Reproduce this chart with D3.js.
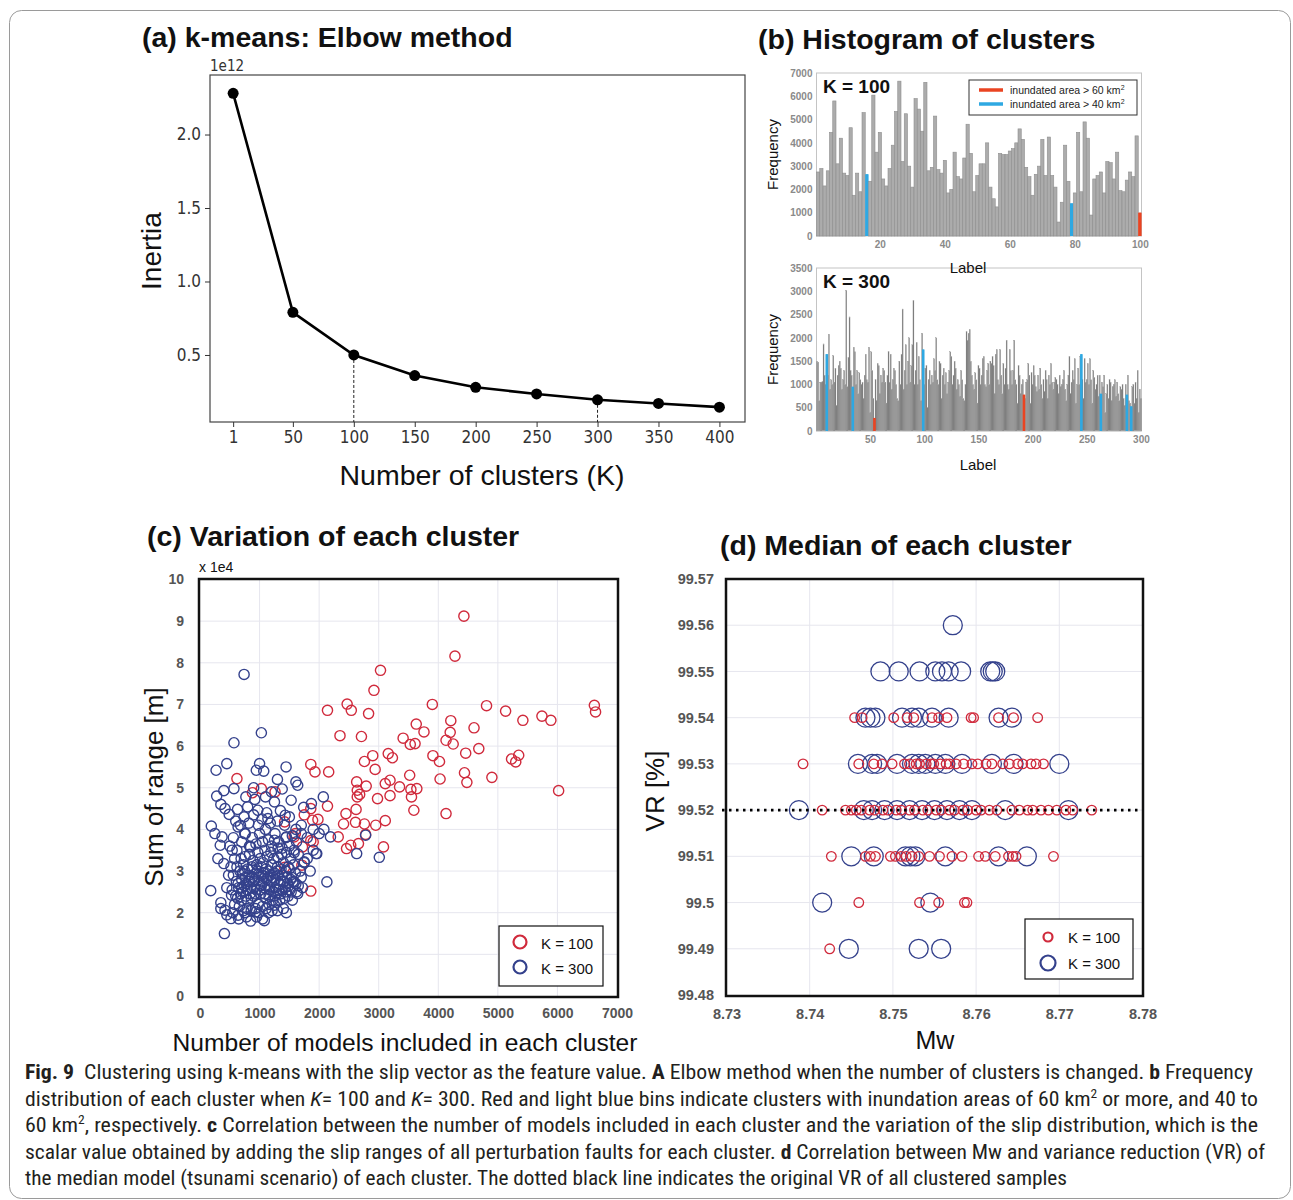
<!DOCTYPE html>
<html>
<head>
<meta charset="utf-8">
<script src="https://cdn.jsdelivr.net/npm/d3@7"></script>
<style>
body { margin: 0; background: #fff; }
svg { display: block; font-family: "Liberation Sans", Arial, sans-serif; }
</style>
</head>
<body>
<div id="chart"></div>
<script>
// (a) elbow method
const elbowK = [1, 50, 100, 150, 200, 250, 300, 350, 400];
const elbowInertia = [2.28, 0.79, 0.50, 0.36, 0.28, 0.235, 0.195, 0.17, 0.145];
const elbowMarked = [100, 300];
const elbowYTicks = [0.5, 1.0, 1.5, 2.0];

// (b) histograms, one value per cluster label
const hist100 = [
  2750, 2900, 2150, 2800, 4450, 5800, 3100, 4200, 2700, 2600,
  4650, 1750, 2700, 1900, 5300, 2650, 2350, 6050, 3600, 4450,
  2450, 2150, 2900, 3900, 5350, 6650, 3200, 5250, 3000, 2100,
  5900, 5450, 4500, 6600, 2800, 2950, 5150, 2850, 2700, 3250,
  1850, 2000, 3600, 2550, 2450, 3350, 4800, 3550, 1900, 2600,
  3100, 3100, 4000, 2100, 1600, 1250, 3550, 3500, 3500, 3650,
  3750, 4000, 4600, 4150, 2950, 2550, 1750, 2650, 3000, 4150,
  2600, 4250, 2600, 2100, 600, 1450, 3900, 2350, 1400, 1850,
  4450, 1900, 4900, 4200, 900, 2450, 2600, 2750, 1850, 3200,
  3150, 2450, 3600, 1950, 1900, 2400, 2750, 2550, 4300, 1000
];
const hist100Blue = [16, 79];
const hist100Red = [100];

const hist300 = [
  1500, 1480, 650, 1050, 1050, 1060, 1870, 1200, 1000, 1650,
  1200, 2080, 900, 1100, 1000, 1620, 1050, 1350, 550, 1200,
  1400, 1500, 1350, 900, 1100, 1300, 1000, 3020, 950, 1580,
  2450, 1300, 1200, 950, 1800, 1700, 1000, 1300, 800, 1250,
  1100, 1000, 1050, 700, 1200, 1650, 1100, 1050, 1800, 400,
  1700, 1300, 700, 280, 1100, 650, 1450, 1400, 800, 1200,
  1050, 1350, 1300, 1050, 600, 1200, 1700, 1050, 1650, 900,
  1100, 1350, 1300, 1000, 700, 650, 1500, 1000, 1650, 2620,
  900, 1300, 1850, 1000, 1500, 2000, 1050, 1400, 1850, 2800,
  1000, 1300, 1900, 1000, 1600, 1100, 650, 2100, 1750, 1000,
  1350, 1400, 500, 1100, 1300, 1000, 1200, 1050, 1550, 1300,
  2000, 1100, 1000, 1500, 1450, 700, 1200, 1350, 1000, 1250,
  800, 1050, 1300, 1700, 1600, 1000, 1200, 1500, 1350, 900,
  1100, 1000, 750, 1300, 1100, 700, 650, 1000, 2130, 1950,
  2100, 2180, 1500, 1200, 1000, 900, 1250, 1100, 600, 1400,
  1350, 1000, 1200, 1550, 1600, 1000, 950, 1300, 1450, 1000,
  1500, 1450, 1600, 1400, 800, 1650, 1750, 1100, 1000, 1750,
  1200, 800, 1450, 1000, 1350, 1950, 1000, 900, 1750, 1300,
  1000, 1300, 1950, 1100, 1000, 600, 1400, 1200, 800, 1000,
  1100, 780, 700, 1050, 1100, 1450, 1200, 600, 1250, 1000,
  1400, 1200, 950, 850, 1200, 900, 1350, 1000, 700, 1100,
  850, 1300, 1100, 700, 1200, 1000, 1450, 1050, 900, 1050,
  1150, 1100, 1000, 800, 1200, 950, 1000, 1100, 1300, 900,
  650, 1000, 1200, 1600, 800, 1050, 1300, 1100, 1550, 600,
  1000, 1350, 1000, 1600, 1650, 1100, 700, 1550, 1050, 1100,
  1450, 1000, 1550, 1100, 600, 1300, 1150, 900, 1000, 1200,
  750, 1200, 800, 1050, 950, 1200, 400, 800, 1000, 700,
  1100, 1050, 650, 950, 1000, 1100, 750, 1050, 800, 650,
  950, 900, 1000, 700, 550, 1000, 780, 1200, 650, 600,
  530, 950, 1000, 600, 1050, 700, 1300, 400, 900, 700
];
const hist300Blue = [10, 34, 99, 245, 263, 287, 291];
const hist300Red = [54, 192];

// (c) number of models vs sum of range (x1e4)
const spreadK100 = [
  [4430, 9.12], [4280, 8.16], [3030, 7.82], [2920, 7.34], [2140, 6.86], [2470, 7.01], [2540, 6.86],
  [2830, 6.78], [3900, 7.0], [4810, 6.97], [5130, 6.84], [5420, 6.62], [5740, 6.72], [5890, 6.62],
  [6620, 6.98], [6640, 6.82], [2350, 6.25], [2710, 6.23], [3410, 6.19], [3530, 6.04], [3610, 6.06],
  [3630, 6.53], [3760, 6.34], [4210, 6.61], [4200, 6.33], [4130, 6.14], [4250, 6.05], [4600, 6.44],
  [4680, 5.94], [4460, 5.83], [3910, 5.77], [4020, 5.63], [5230, 5.69], [5350, 5.78], [5300, 5.62],
  [3160, 5.82], [3230, 5.72], [2900, 5.77], [2760, 5.63], [2940, 5.44], [1860, 5.56], [1930, 5.38],
  [2160, 5.38], [620, 5.22], [880, 4.88], [1030, 4.98], [1260, 4.90], [2630, 5.14], [2790, 5.04],
  [2640, 4.94], [2680, 4.84], [2640, 4.78], [2980, 4.74], [3110, 5.10], [3190, 5.18], [3350, 5.02],
  [3190, 4.81], [3520, 5.30], [3540, 4.96], [3550, 4.78], [3640, 4.98], [3590, 4.46], [4030, 5.21],
  [4440, 5.36], [4480, 5.13], [4900, 5.25], [6020, 4.93], [4130, 4.38], [1860, 4.50], [1890, 4.22],
  [1980, 4.24], [2140, 4.56], [2450, 4.38], [2620, 4.48], [2410, 4.13], [2610, 4.17], [2760, 4.13],
  [2950, 4.10], [3110, 4.21], [2320, 3.82], [2460, 3.54], [2530, 3.62], [2660, 3.66], [2780, 3.88],
  [3080, 3.58], [1860, 3.73], [1900, 3.70], [1600, 3.90], [1720, 3.58], [1420, 4.18], [1420, 3.09],
  [1710, 3.14], [1860, 2.52], [1580, 3.82], [1750, 4.35]
];
const spreadK300 = [
  [740, 7.72], [1030, 6.32], [570, 6.08], [270, 5.42], [450, 5.58], [945, 5.42], [1000, 5.58],
  [1070, 5.40], [1445, 5.50], [1610, 5.14], [1640, 5.06], [1380, 4.97], [1530, 4.70], [1740, 4.53],
  [1870, 4.62], [2070, 4.78], [2080, 4.00], [2190, 3.82], [1960, 3.42], [2630, 3.42], [2780, 3.86],
  [3010, 3.33], [2130, 2.74], [180, 2.53], [410, 1.50], [1080, 1.81], [190, 4.08], [280, 4.80],
  [400, 4.93], [570, 4.98], [490, 4.36], [630, 4.48], [770, 4.78], [920, 4.72], [1100, 4.78],
  [1250, 4.66], [800, 4.54], [970, 4.46], [1140, 4.26], [1430, 4.34], [370, 3.82], [340, 3.62],
  [400, 3.18], [540, 3.50], [750, 3.90], [850, 3.58], [640, 4.06], [1250, 3.74], [1580, 3.44],
  [1610, 4.0], [1450, 3.82], [1310, 3.34], [1750, 3.22], [1950, 3.42], [350, 2.24], [420, 2.06],
  [520, 1.86], [640, 1.94], [780, 1.90], [940, 2.02], [1250, 2.18], [1640, 2.46], [1580, 2.74],
  [530, 2.42], [700, 2.30],
  [600, 2.4], [650, 2.6], [700, 2.8], [720, 2.5], [750, 3.0], [780, 2.7], [800, 2.3], [820, 2.9],
  [850, 2.6], [870, 3.1], [900, 2.4], [920, 2.8], [950, 2.55], [960, 3.0], [980, 2.2], [1000, 2.7],
  [1020, 2.45], [1040, 2.9], [1060, 3.2], [1080, 2.6], [1100, 2.35], [1120, 2.8], [1150, 3.0],
  [1170, 2.55], [1200, 2.75], [1220, 2.3], [1250, 2.95], [1270, 2.6], [1300, 3.1], [1330, 2.7],
  [1350, 2.45], [1380, 2.9], [1400, 3.2], [1430, 2.6], [1460, 2.85], [1500, 3.05], [1530, 2.5],
  [1560, 2.75], [1600, 2.95], [1650, 2.65],
  [560, 2.9], [580, 2.2], [620, 3.1], [660, 2.15], [690, 3.3], [730, 2.05], [760, 3.35], [790, 2.1],
  [830, 3.4], [860, 2.05], [890, 3.25], [930, 2.1], [970, 3.45], [990, 2.0], [1010, 3.3], [1050, 2.15],
  [1090, 3.5], [1110, 2.1], [1130, 3.35], [1160, 2.2], [1190, 3.45], [1210, 2.05], [1240, 3.3],
  [1280, 2.25], [1310, 3.55], [1340, 2.3], [1370, 3.4], [1420, 2.35], [1450, 3.45], [1480, 2.4],
  [1520, 3.3], [1550, 2.3], [1580, 3.5], [1620, 2.5], [1680, 3.0], [1720, 2.6], [1750, 3.2], [1650, 3.4],
  [640, 2.7], [680, 2.45], [710, 2.95], [740, 2.65], [770, 2.4], [810, 2.75], [840, 2.45], [880, 2.85],
  [910, 2.6], [940, 2.95], [1030, 2.65], [1070, 2.95], [1140, 2.65], [1180, 2.9], [1230, 2.5],
  [1260, 2.8], [1290, 2.45], [1320, 2.9], [1360, 2.75], [1390, 2.55], [1440, 3.0], [1470, 2.7],
  [1510, 2.55], [1540, 2.85],
  [500, 3.6], [560, 3.8], [620, 3.5], [700, 3.7], [760, 3.9], [830, 3.6], [880, 3.8], [940, 3.65],
  [1000, 3.9], [1050, 3.7], [1100, 4.0], [1150, 3.75], [1200, 3.6], [1260, 3.9], [1320, 3.7],
  [1380, 3.55], [1440, 3.8], [1500, 3.6], [1550, 3.85], [1620, 3.7], [1700, 3.9], [1800, 3.8],
  [600, 4.2], [680, 4.1], [740, 4.3], [820, 4.15], [900, 4.35], [980, 4.1], [1040, 4.25], [1120, 4.4],
  [1180, 4.15], [1300, 4.2], [1350, 4.45], [1420, 4.1], [1500, 4.3], [1700, 4.1], [1900, 4.0], [2000, 3.9],
  [350, 2.1], [450, 1.95], [550, 2.0], [650, 1.85], [750, 2.0], [850, 1.8], [950, 1.9], [1050, 1.85],
  [1150, 2.0], [1300, 2.05], [1400, 2.1], [1450, 2.0],
  [450, 2.6], [480, 2.9], [520, 3.1], [540, 2.55], [580, 3.3], [610, 2.75], [630, 2.35], [670, 3.0],
  [700, 2.6], [730, 3.15], [760, 2.85], [790, 2.55], [800, 3.05], [830, 2.75], [860, 2.35], [880, 3.05],
  [900, 2.75], [930, 2.45], [950, 3.15], [990, 2.85], [1010, 2.55], [1030, 3.1], [1060, 2.75], [1090, 2.45],
  [1110, 3.05], [1140, 2.85], [1160, 2.4], [1200, 3.15], [1230, 2.85], [1250, 2.4], [1290, 3.0], [1320, 2.55],
  [1360, 3.05], [1400, 2.75], [1440, 2.5], [1480, 3.1], [1520, 2.8], [1570, 3.15], [1610, 2.7], [1700, 2.85],
  [1800, 3.3], [1850, 3.0], [1900, 3.5], [300, 3.3], [250, 3.9], [420, 4.5], [350, 4.6], [900, 5.0],
  [1200, 4.9], [1300, 5.2]
];

// (d) VR level -> Mw of each median model
const medianK100 = [
  [99.54, [8.7454, 8.7463, 8.7501, 8.7517, 8.7525, 8.7547, 8.7555, 8.7565, 8.7594, 8.7597, 8.7627, 8.7645, 8.7674]],
  [99.53, [8.7392, 8.7459, 8.7477, 8.7487, 8.7499, 8.7514, 8.7520, 8.7528, 8.7532, 8.7540, 8.7546, 8.7549,
           8.7557, 8.7564, 8.7568, 8.7576, 8.7585, 8.7595, 8.7602, 8.7612, 8.7619, 8.7632, 8.7640, 8.7650,
           8.7656, 8.7666, 8.7672, 8.7681]],
  [99.52, [8.7415, 8.7443, 8.7450, 8.7456, 8.7462, 8.7472, 8.7478, 8.7488, 8.7494, 8.7504, 8.7510, 8.7520,
           8.7526, 8.7536, 8.7542, 8.7552, 8.7558, 8.7568, 8.7574, 8.7584, 8.7590, 8.7600, 8.7606, 8.7616,
           8.7625, 8.7643, 8.7652, 8.7662, 8.7668, 8.7678, 8.7687, 8.7697, 8.7708, 8.7716, 8.7739]],
  [99.51, [8.7426, 8.7467, 8.7473, 8.7479, 8.7497, 8.7503, 8.7510, 8.7516, 8.7523, 8.7531, 8.7544, 8.7556,
           8.7571, 8.7583, 8.7603, 8.7611, 8.7623, 8.7639, 8.7644, 8.7648, 8.7693]],
  [99.50, [8.7459, 8.7532, 8.7555, 8.7586, 8.7589]],
  [99.49, [8.7424]]
];
const medianK300 = [
  [99.56, [8.7572]],
  [99.55, [8.7485, 8.7507, 8.7532, 8.7551, 8.7559, 8.7567, 8.7582, 8.7617, 8.7620, 8.7623]],
  [99.54, [8.7467, 8.7473, 8.7479, 8.7511, 8.7523, 8.7531, 8.7547, 8.7567, 8.7627, 8.7643]],
  [99.53, [8.7458, 8.7475, 8.7481, 8.7505, 8.7523, 8.7531, 8.7539, 8.7551, 8.7563, 8.7583, 8.7619, 8.7645, 8.7700]],
  [99.52, [8.7387, 8.7465, 8.7475, 8.7490, 8.7505, 8.7520, 8.7535, 8.7550, 8.7565, 8.7580, 8.7595, 8.7635, 8.7711]],
  [99.51, [8.7450, 8.7477, 8.7515, 8.7521, 8.7527, 8.7563, 8.7627, 8.7661]],
  [99.50, [8.7415, 8.7545]],
  [99.49, [8.7447, 8.7531, 8.7558]]
];
const originalVR = 99.52;

const RED = '#d02a3c';
const BLUE = '#34418c';

const svg = d3.select('#chart').append('svg')
  .attr('width', 1293).attr('height', 1200);

// figure border
svg.append('rect')
  .attr('x', 9.5).attr('y', 10.5).attr('width', 1281).attr('height', 1188).attr('rx', 12)
  .attr('fill', 'none').attr('stroke', '#9a9a9a').attr('stroke-width', 1);

function title(x, y, txt) {
  svg.append('text').attr('x', x).attr('y', y)
    .attr('font-size', 28.5).attr('font-weight', 'bold').attr('fill', '#111').text(txt);
}

function styleAxis(g, size, color, family, weight) {
  g.select('.domain').remove();
  g.selectAll('text')
    .attr('font-size', size).attr('fill', color)
    .attr('font-family', family).attr('font-weight', weight || 'normal');
  g.selectAll('line').attr('stroke', color);
}

function rotLabel(x, y, size, txt) {
  svg.append('text')
    .attr('transform', `translate(${x},${y}) rotate(-90)`)
    .attr('text-anchor', 'middle').attr('font-size', size).attr('fill', '#111').text(txt);
}

function label(x, y, size, txt, anchor) {
  return svg.append('text').attr('x', x).attr('y', y)
    .attr('text-anchor', anchor || 'middle').attr('font-size', size).attr('fill', '#111').text(txt);
}

// ---------- (a) ----------
function drawElbow() {
  title(142, 47, '(a) k-means: Elbow method');
  const x = d3.scaleLinear().domain([-18, 421]).range([210, 745]);
  const y = d3.scaleLinear().domain([0.044, 2.405]).range([422, 75]);
  const font = '"DejaVu Sans Condensed", "DejaVu Sans", sans-serif';

  svg.append('rect').attr('x', 210).attr('y', 75).attr('width', 535).attr('height', 347)
    .attr('fill', 'none').attr('stroke', '#444').attr('stroke-width', 1.2);

  const gx = svg.append('g').attr('transform', 'translate(0,422)')
    .call(d3.axisBottom(x).tickValues(elbowK).tickSize(5).tickPadding(4));
  styleAxis(gx, 17, '#333', font);
  gx.selectAll('text').attr('font-stretch', 'condensed');

  const gy = svg.append('g').attr('transform', 'translate(210,0)')
    .call(d3.axisLeft(y).tickValues(elbowYTicks).tickFormat(d3.format('.1f')).tickSize(5).tickPadding(4));
  styleAxis(gy, 17, '#333', font);
  gy.selectAll('text').attr('font-stretch', 'condensed');

  svg.append('text').attr('x', 210).attr('y', 71).attr('font-size', 15).attr('fill', '#333')
    .attr('font-family', font).attr('font-stretch', 'condensed').text('1e12');

  elbowMarked.forEach(k => {
    const i = elbowK.indexOf(k);
    svg.append('line')
      .attr('x1', x(k)).attr('x2', x(k)).attr('y1', y(elbowInertia[i])).attr('y2', 422)
      .attr('stroke', '#222').attr('stroke-width', 1).attr('stroke-dasharray', '3,2');
  });

  const pts = elbowK.map((k, i) => [k, elbowInertia[i]]);
  svg.append('path').datum(pts)
    .attr('d', d3.line().x(d => x(d[0])).y(d => y(d[1])))
    .attr('fill', 'none').attr('stroke', '#000').attr('stroke-width', 2.6);
  svg.append('g').selectAll('circle').data(pts).enter().append('circle')
    .attr('cx', d => x(d[0])).attr('cy', d => y(d[1])).attr('r', 5.5).attr('fill', '#000');

  label(482, 485, 28.5, 'Number of clusters (K)');
  rotLabel(161, 251, 28, 'Inertia');
}

// ---------- (b) ----------
function drawHist(cfg) {
  const { values, blue, red, top, bottom, yMax, yStep, xTicks, tag, gray, edge } = cfg;
  const left = 816.5, right = 1141.5;
  const x = d3.scaleLinear().domain([0.5, values.length + 0.5]).range([left, right]);
  const y = d3.scaleLinear().domain([0, yMax]).range([bottom, top]);
  const w = x(2) - x(1);

  svg.append('rect').attr('x', left).attr('y', top).attr('width', right - left).attr('height', bottom - top)
    .attr('fill', '#fff').attr('stroke', '#c4c4c4').attr('stroke-width', 1);

  const colour = i => blue.includes(i) ? '#2ea8e2' : red.includes(i) ? '#ea4422' : gray;
  const bars = values.map((v, i) => ({ i: i + 1, v }));
  svg.append('g').selectAll('rect').data(bars).enter().append('rect')
    .attr('x', d => x(d.i) - w / 2).attr('width', w)
    .attr('y', d => y(d.v)).attr('height', d => bottom - y(d.v))
    .attr('fill', d => colour(d.i))
    .attr('stroke', d => colour(d.i) === gray ? edge : 'none')
    .attr('stroke-width', cfg.edgeWidth);
  // coloured bars on top so they are not hidden by neighbours
  svg.append('g').selectAll('rect').data(bars.filter(d => colour(d.i) !== gray)).enter().append('rect')
    .attr('x', d => x(d.i) - 1.3).attr('width', 2.6)
    .attr('y', d => y(d.v)).attr('height', d => bottom - y(d.v))
    .attr('fill', d => colour(d.i));

  const tickFont = 'Liberation Sans, Arial, sans-serif';
  const gx = svg.append('g').attr('transform', `translate(0,${bottom})`)
    .call(d3.axisBottom(x).tickValues(xTicks).tickSize(0).tickPadding(5));
  styleAxis(gx, 10, '#8a8a8a', tickFont, 'bold');
  const gy = svg.append('g').attr('transform', `translate(${left},0)`)
    .call(d3.axisLeft(y).tickValues(d3.range(0, yMax + 1, yStep)).tickFormat(d3.format('d'))
      .tickSize(0).tickPadding(4));
  styleAxis(gy, 10, '#8a8a8a', tickFont, 'bold');

  svg.append('text').attr('x', 823).attr('y', top + 20).attr('font-size', 19)
    .attr('font-weight', 'bold').attr('fill', '#111').text(tag);
  rotLabel(778, (top + bottom) / 2, 15, 'Frequency');
}

function drawHistograms() {
  title(758, 49, '(b) Histogram of clusters');
  drawHist({
    values: hist100, blue: hist100Blue, red: hist100Red, top: 73, bottom: 236,
    yMax: 7000, yStep: 1000, xTicks: [20, 40, 60, 80, 100], tag: 'K = 100',
    gray: '#acacac', edge: '#8e8e8e', edgeWidth: 0.6
  });
  drawHist({
    values: hist300, blue: hist300Blue, red: hist300Red, top: 268, bottom: 431,
    yMax: 3500, yStep: 500, xTicks: [50, 100, 150, 200, 250, 300], tag: 'K = 300',
    gray: '#767676', edge: '#a8a8a8', edgeWidth: 0.25
  });
  // top axis title sits over the second frame, as in the original
  label(968, 273, 15, 'Label');
  label(978, 470, 15, 'Label');

  // legend
  const lg = svg.append('g').attr('transform', 'translate(969,80)');
  lg.append('rect').attr('width', 168).attr('height', 35).attr('fill', '#fff')
    .attr('stroke', '#333').attr('stroke-width', 1);
  [['#ea4422', '60'], ['#2ea8e2', '40']].forEach((d, i) => {
    lg.append('line').attr('x1', 10).attr('x2', 34).attr('y1', 10 + i * 14).attr('y2', 10 + i * 14)
      .attr('stroke', d[0]).attr('stroke-width', 3.5);
    const t = lg.append('text').attr('x', 41).attr('y', 13.5 + i * 14).attr('font-size', 10.5).attr('fill', '#222');
    t.append('tspan').text(`inundated area > ${d[1]} km`);
    t.append('tspan').attr('dy', -4).attr('font-size', 7).text('2');
  });
}

// ---------- (c) ----------
function drawSpread() {
  title(147, 546, '(c) Variation of each cluster');
  const x = d3.scaleLinear().domain([0, 7000]).range([200, 617]);
  const y = d3.scaleLinear().domain([0, 10]).range([996, 579.5]);

  const grid = svg.append('g').attr('stroke', '#e6e6ee').attr('stroke-width', 1);
  d3.range(1000, 7000, 1000).forEach(v => grid.append('line')
    .attr('x1', x(v)).attr('x2', x(v)).attr('y1', 579).attr('y2', 997));
  d3.range(1, 10).forEach(v => grid.append('line')
    .attr('x1', 199).attr('x2', 618).attr('y1', y(v)).attr('y2', y(v)));

  const plot = (data, col) => svg.append('g').selectAll('circle').data(data).enter().append('circle')
    .attr('cx', d => x(d[0])).attr('cy', d => y(d[1])).attr('r', 5.1)
    .attr('fill', 'none').attr('stroke', col).attr('stroke-width', 1.4);
  plot(spreadK100, RED);
  plot(spreadK300, BLUE);

  svg.append('rect').attr('x', 199).attr('y', 579).attr('width', 419).attr('height', 418)
    .attr('fill', 'none').attr('stroke', '#111').attr('stroke-width', 2.5);

  const tickFont = 'Liberation Sans, Arial, sans-serif';
  const gx = svg.append('g').attr('transform', 'translate(0,1003)')
    .call(d3.axisBottom(x).tickValues(d3.range(0, 7001, 1000)).tickFormat(d3.format('d'))
      .tickSize(0).tickPadding(5));
  styleAxis(gx, 14, '#555', tickFont, 'bold');
  const gy = svg.append('g').attr('transform', 'translate(184,0)')
    .call(d3.axisLeft(y).tickValues(d3.range(0, 11)).tickSize(0).tickPadding(0));
  styleAxis(gy, 14, '#555', tickFont, 'bold');

  label(199, 572, 14, 'x 1e4', 'start');
  label(405, 1051, 24.6, 'Number of models included in each cluster');
  rotLabel(163, 787, 26, 'Sum of range [m]');

  const lg = svg.append('g').attr('transform', 'translate(499,926)');
  lg.append('rect').attr('width', 104).attr('height', 60).attr('fill', '#fff')
    .attr('stroke', '#111').attr('stroke-width', 1.2);
  [[RED, 'K = 100'], [BLUE, 'K = 300']].forEach((d, i) => {
    lg.append('circle').attr('cx', 21).attr('cy', 16 + i * 25).attr('r', 6.5)
      .attr('fill', 'none').attr('stroke', d[0]).attr('stroke-width', 2.2);
    lg.append('text').attr('x', 42).attr('y', 23 + i * 25).attr('font-size', 15).attr('fill', '#111').text(d[1]);
  });
}

// ---------- (d) ----------
function drawMedian() {
  title(720, 555, '(d) Median of each cluster');
  const x = d3.scaleLinear().domain([8.73, 8.78]).range([726.5, 1142.5]);
  const y = d3.scaleLinear().domain([99.48, 99.57]).range([995, 579]);

  const grid = svg.append('g').attr('stroke', '#e6e6ee').attr('stroke-width', 1);
  [8.74, 8.75, 8.76, 8.77].forEach(v => grid.append('line')
    .attr('x1', x(v)).attr('x2', x(v)).attr('y1', 579).attr('y2', 996));
  d3.range(1, 9).forEach(k => {
    const v = 99.48 + k * 0.01;
    grid.append('line').attr('x1', 726).attr('x2', 1143).attr('y1', y(v)).attr('y2', y(v));
  });

  const flat = rows => rows.flatMap(r => r[1].map(m => [m, r[0]]));
  const plot = (data, col, r) => svg.append('g').selectAll('circle').data(data).enter().append('circle')
    .attr('cx', d => x(d[0])).attr('cy', d => y(d[1])).attr('r', r)
    .attr('fill', 'none').attr('stroke', col).attr('stroke-width', 1.3);
  plot(flat(medianK300), BLUE, 9.5);
  plot(flat(medianK100), RED, 4.8);

  svg.append('line').attr('x1', 722).attr('x2', 1143).attr('y1', y(originalVR)).attr('y2', y(originalVR))
    .attr('stroke', '#000').attr('stroke-width', 2.6).attr('stroke-dasharray', '2.5,4.5');

  svg.append('rect').attr('x', 726).attr('y', 579).attr('width', 417).attr('height', 417)
    .attr('fill', 'none').attr('stroke', '#111').attr('stroke-width', 2.5);

  const tickFont = 'Liberation Sans, Arial, sans-serif';
  const gx = svg.append('g').attr('transform', 'translate(0,1004)')
    .call(d3.axisBottom(x).tickValues([8.73, 8.74, 8.75, 8.76, 8.77, 8.78])
      .tickFormat(d3.format('.2f')).tickSize(0).tickPadding(5));
  styleAxis(gx, 14.5, '#555', tickFont, 'bold');
  const yTicks = d3.range(0, 10).map(k => 99.48 + k * 0.01);
  const gy = svg.append('g').attr('transform', 'translate(714,0)')
    .call(d3.axisLeft(y).tickValues(yTicks).tickFormat(d => String(+d.toFixed(2))).tickSize(0).tickPadding(0));
  styleAxis(gy, 14.5, '#555', tickFont, 'bold');

  label(935, 1049, 25, 'Mw');
  rotLabel(664, 791, 26, 'VR [%]');

  const lg = svg.append('g').attr('transform', 'translate(1025,919)');
  lg.append('rect').attr('width', 108).attr('height', 60).attr('fill', '#fff')
    .attr('stroke', '#111').attr('stroke-width', 1.2);
  [[RED, 'K = 100', 4.5], [BLUE, 'K = 300', 7.5]].forEach((d, i) => {
    lg.append('circle').attr('cx', 23).attr('cy', 18 + i * 26).attr('r', d[2])
      .attr('fill', 'none').attr('stroke', d[0]).attr('stroke-width', 2.2);
    lg.append('text').attr('x', 43).attr('y', 24 + i * 26).attr('font-size', 15).attr('fill', '#111').text(d[1]);
  });
}

// ---------- caption ----------
const captionLines = [
  [['b', 'Fig. 9'], ['', '  Clustering using k-means with the slip vector as the feature value. '], ['b', 'A'],
   ['', ' Elbow method when the number of clusters is changed. '], ['b', 'b'], ['', ' Frequency']],
  [['', 'distribution of each cluster when '], ['i', 'K'], ['', '= 100 and '], ['i', 'K'],
   ['', '= 300. Red and light blue bins indicate clusters with inundation areas of 60 km'], ['s', '2'],
   ['', ' or more, and 40 to']],
  [['', '60 km'], ['s', '2'], ['', ', respectively. '], ['b', 'c'],
   ['', ' Correlation between the number of models included in each cluster and the variation of the slip distribution, which is the']],
  [['', 'scalar value obtained by adding the slip ranges of all perturbation faults for each cluster. '], ['b', 'd'],
   ['', ' Correlation between Mw and variance reduction (VR) of']],
  [['', 'the median model (tsunami scenario) of each cluster. The dotted black line indicates the original VR of all clustered samples']]
];
const captionWidths = [1228, 1233, 1233, 1240, 1042];

function drawCaption() {
  captionLines.forEach((parts, li) => {
    const t = svg.append('text').attr('x', 25).attr('y', 1079 + li * 26.6)
      .attr('font-size', 19.5).attr('fill', '#231f20')
      .attr('font-family', '"Liberation Sans Narrow", "Roboto Condensed", Roboto, sans-serif')
      .attr('textLength', captionWidths[li]).attr('lengthAdjust', 'spacingAndGlyphs')
      .attr('xml:space', 'preserve');
    let raised = false;
    parts.forEach(([kind, str]) => {
      const s = t.append('tspan').text(str);
      if (kind === 'b') s.attr('font-weight', 'bold');
      if (kind === 'i') s.attr('font-style', 'italic');
      if (kind === 's') { s.attr('font-size', 12).attr('dy', -8); raised = true; }
      else if (raised) { s.attr('dy', 8); raised = false; }
    });
  });
}

drawElbow();
drawHistograms();
drawSpread();
drawMedian();
drawCaption();
</script>
</body>
</html>
